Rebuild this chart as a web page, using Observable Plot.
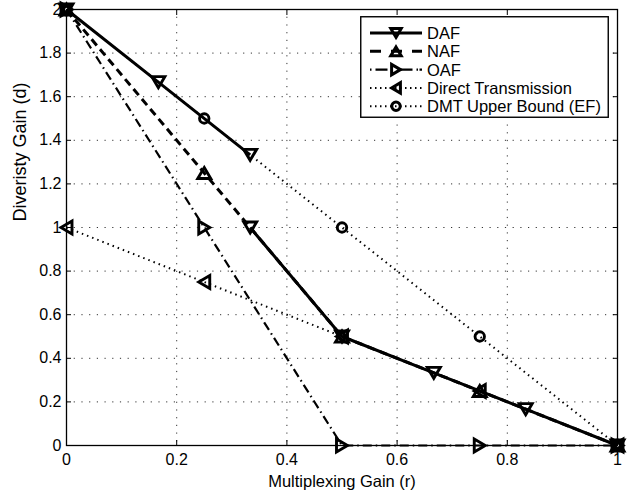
<!DOCTYPE html>
<html><head><meta charset="utf-8">
<script src="https://cdn.jsdelivr.net/npm/d3@7"></script>
<script src="https://cdn.jsdelivr.net/npm/@observablehq/plot@0.6"></script>
<style>
body{margin:0;background:#fff;font-family:"Liberation Sans",Arial,Helvetica,sans-serif;}
#wrap{position:relative;width:644px;height:495px;}
#legend{position:absolute;left:360px;top:16px;}
</style></head><body><div id="wrap"></div>
<script>
// ---- data ----
const seriesNames = ["DAF", "NAF", "OAF", "Direct Transmission", "DMT Upper Bound (EF)"];
const dafR = [0, 1/6, 1/3, NaN, 1/3, 1/2, 2/3, 5/6, 1];
const dafD = [2, 5/3, 4/3, NaN, 1, 0.5, 1/3, 1/6, 0];
const nafR = [0, 0.25, 0.5, 0.75, 1];
const nafD = [2, 1.25, 0.5, 0.25, 0];
const oafR = [0, 0.25, 0.5, 0.75, 1];
const oafD = [2, 1, 0, 0, 0];
const dirR = [0, 0.25, 0.5, 0.75, 1];
const dirD = [1, 0.75, 0.5, 0.25, 0];
const dmtR = [0, 0.25, 0.5, 0.75, 1];
const dmtD = [2, 1.5, 1, 0.5, 0];
const xTicks = [0, 0.2, 0.4, 0.6, 0.8, 1];
const yTicks = [0, 0.2, 0.4, 0.6, 0.8, 1, 1.2, 1.4, 1.6, 1.8, 2];

// ---- styles ----
function tri(dir, k = 1) {
  const W = 13 * k, H = 11 * k;
  return {draw(ctx) {
    let pts;
    if (dir === "up") pts = [[0,-H/2],[W/2,H/2],[-W/2,H/2]];
    else if (dir === "down") pts = [[0,H/2],[W/2,-H/2],[-W/2,-H/2]];
    else if (dir === "right") pts = [[H/2,0],[-H/2,W/2],[-H/2,-W/2]];
    else pts = [[-H/2,0],[H/2,W/2],[H/2,-W/2]];
    ctx.moveTo(pts[0][0], pts[0][1]);
    ctx.lineTo(pts[1][0], pts[1][1]);
    ctx.lineTo(pts[2][0], pts[2][1]);
    ctx.closePath();
  }};
}
function circ(k = 1) { const R = 4.7 * k; return {draw(ctx) { ctx.moveTo(R, 0); ctx.arc(0, 0, R, 0, 2 * Math.PI); }}; }

const series = [
  {name: seriesNames[0], r: dafR, d: dafD, dash: null, legDash: null, width: 3, sym: tri("down"), leg: tri("down", 0.8)},
  {name: seriesNames[1], r: nafR, d: nafD, dash: "8,5", legDash: "11,10", width: 3, sym: tri("up"), leg: tri("up", 0.8)},
  {name: seriesNames[2], r: oafR, d: oafD, dash: "9,4,1.5,4", legDash: "1.5,4,12,13,12,4,1.5", width: 2.2, sym: tri("right"), leg: tri("right", 0.8)},
  {name: seriesNames[3], r: dirR, d: dirD, dash: "1.5,4", legDash: "1.5,3.5", width: 2, sym: tri("left"), leg: tri("left", 0.8)},
  {name: seriesNames[4], r: dmtR, d: dmtD, dash: "1.5,4", legDash: "1.5,3.5", width: 2, sym: circ(), leg: circ(0.9)}
];
const rows = s => s.r.map((r, i) => ({r, d: s.d[i]}));

const marks = [
  Plot.gridX(xTicks, {stroke: "#000", strokeOpacity: 0.8, strokeDasharray: "1.2,6.5"}),
  Plot.gridY(yTicks, {stroke: "#000", strokeOpacity: 0.8, strokeDasharray: "1.2,6.5"}),
  Plot.frame({stroke: "#000", strokeWidth: 1.3}),
  Plot.axisX(xTicks, {anchor: "bottom", tickSize: -5, tickPadding: 13, fontSize: 16,
    tickFormat: d => String(+d.toFixed(1)), label: null}),
  Plot.axisX(xTicks, {anchor: "top", tickSize: -5, tickFormat: () => "", label: null}),
  Plot.axisY(yTicks, {anchor: "left", tickSize: -5, tickPadding: 10, fontSize: 16,
    tickFormat: d => String(+d.toFixed(1)), label: null}),
  Plot.axisY(yTicks, {anchor: "right", tickSize: -5, tickFormat: () => "", label: null}),
  Plot.text([seriesNames[0]], {frameAnchor: "bottom", dy: 36, text: () => "Multiplexing Gain (r)", fontSize: 16.5, lineAnchor: "middle"}),
  Plot.text([seriesNames[0]], {frameAnchor: "left", dx: -46, dy: -6, rotate: -90, text: () => "Diveristy Gain (d)", fontSize: 18, lineAnchor: "middle"})
];
for (const s of series) {
  marks.push(Plot.line(rows(s), {x: "r", y: "d", stroke: "#000", strokeWidth: s.width, strokeDasharray: s.dash, strokeLinecap: "butt", strokeLinejoin: "miter"}));
  marks.push(Plot.dot(rows(s).filter(p => !isNaN(p.r)), {x: "r", y: "d", symbol: s.sym, r: 6, stroke: "#000", strokeWidth: 2.9, fill: "none"}));
}

const chart = Plot.plot({
  width: 644, height: 495,
  marginLeft: 66, marginRight: 27, marginTop: 9, marginBottom: 50,
  style: {fontFamily: '"Liberation Sans", Arial, sans-serif', fontSize: "16px", color: "#000", background: "#fff", overflow: "visible"},
  x: {domain: [0, 1]},
  y: {domain: [0, 2]},
  marks
});
const wrap = document.getElementById("wrap");
wrap.appendChild(chart);

// ---- legend ----
const lw = 249, lh = 102;
const leg = d3.select(wrap).append("svg").attr("id", "legend").attr("width", lw).attr("height", lh);
leg.append("rect").attr("x", 0.75).attr("y", 0.75).attr("width", lw - 1.5).attr("height", lh - 1.5)
  .attr("fill", "#fff").attr("stroke", "#000").attr("stroke-width", 1.4);
series.forEach((s, i) => {
  const y = 17 + i * 18.3;
  leg.append("line").attr("x1", 10).attr("x2", 62).attr("y1", y).attr("y2", y)
    .attr("stroke", "#000").attr("stroke-width", s.width).attr("stroke-dasharray", s.legDash);
  const p = d3.path(); s.leg.draw(p);
  leg.append("path").attr("d", p.toString()).attr("transform", `translate(36,${y})`)
    .attr("fill", "none").attr("stroke", "#000").attr("stroke-width", 3);
  leg.append("text").attr("x", 67).attr("y", y).attr("dy", "0.36em")
    .attr("font-size", 16.5).attr("font-family", '"Liberation Sans", Arial, sans-serif').text(s.name);
});
</script></body></html>
